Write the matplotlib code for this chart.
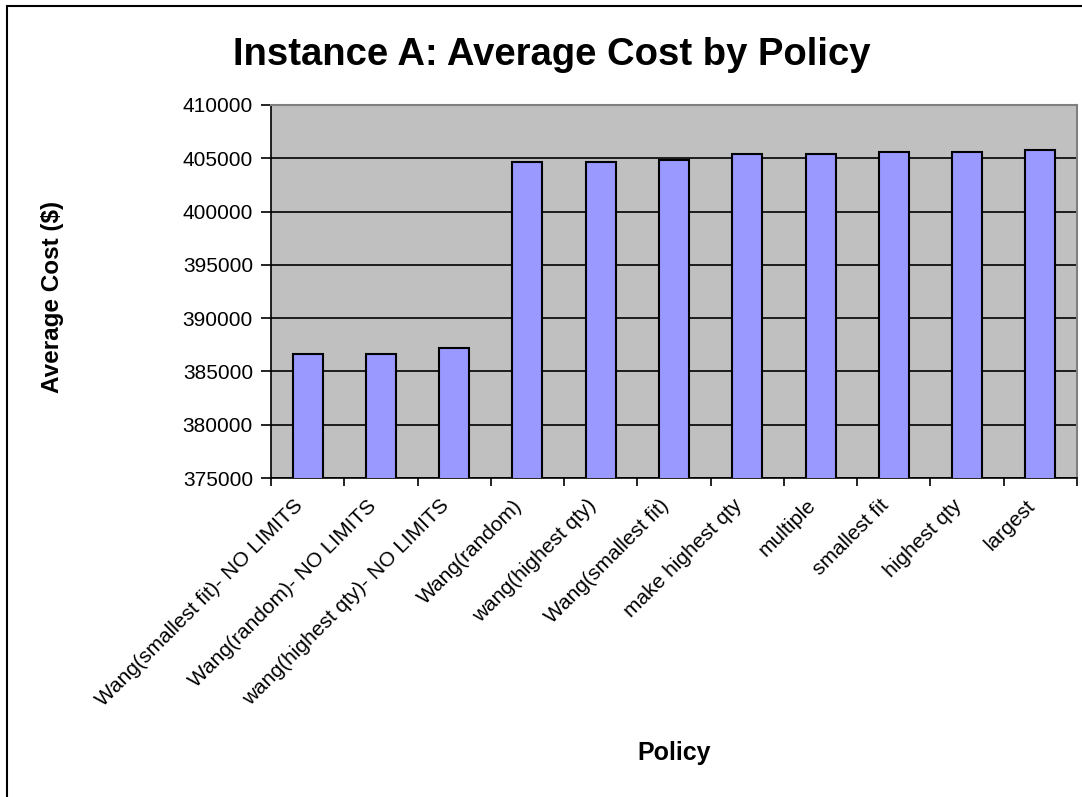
import numpy as np
from matplotlib import pyplot as plt
from matplotlib.patches import Rectangle

# данные
policies = [
    "Wang(smallest fit)- NO LIMITS",
    "Wang(random)- NO LIMITS",
    "wang(highest qty)- NO LIMITS",
    "Wang(random)",
    "wang(highest qty)",
    "Wang(smallest fit)",
    "make highest qty",
    "multiple",
    "smallest fit",
    "highest qty",
    "largest",
]
avg_cost = [386620, 386610, 387160, 404620, 404630, 404810,
            405370, 405380, 405560, 405560, 405750]
y_ticks = np.arange(375000, 410001, 5000)

W, H = 1082, 797
LABEL_SHIFT = 0.2  # сдвиг подписей категорий влево (в долях категории)


def main() -> None:
    plt.rcParams["font.family"] = ["Liberation Sans", "DejaVu Sans"]
    fig = plt.figure(figsize=(W / 100, H / 100), dpi=100)

    # область графика в пикселях: x 271..1077, y 105..478
    ax = fig.add_axes([271 / W, 1 - 478 / H, (1077 - 271) / W, (478 - 105) / H])
    ax.set_facecolor("#C0C0C0")

    x = np.arange(len(policies))
    ax.bar(x, avg_cost, width=0.41, color="#9999FF", edgecolor="black",
           linewidth=1.5, zorder=3)

    ax.set_xlim(-0.5, len(policies) - 0.5)
    ax.set_ylim(y_ticks[0], y_ticks[-1])
    ax.set_yticks(y_ticks)
    ax.set_yticklabels([str(v) for v in y_ticks], fontsize=15)
    ax.yaxis.grid(True, color="black", linewidth=1.2, zorder=0)
    ax.set_axisbelow(True)

    ax.set_xticks(x - LABEL_SHIFT)
    ax.set_xticklabels(policies, rotation=45, ha="right",
                       rotation_mode="anchor", fontsize=15)
    ax.set_xticks(np.arange(-0.5, len(policies)), minor=True)
    ax.tick_params(axis="x", which="major", length=0, pad=13)
    ax.tick_params(axis="x", which="minor", length=6, width=1.2)
    ax.tick_params(axis="y", length=7, width=1.2, pad=6)

    for side in ("top", "right"):
        ax.spines[side].set_color("#808080")
        ax.spines[side].set_linewidth(1.5)
    for side in ("left", "bottom"):
        ax.spines[side].set_color("black")
        ax.spines[side].set_linewidth(1.2)

    fig.text(53 / W, 1 - 297 / H, "Average Cost ($)", fontsize=17.5,
             fontweight="bold", rotation=90, ha="center", va="center")
    fig.text(674 / W, 1 - 753 / H, "Policy", fontsize=18, fontweight="bold",
             ha="center", va="center")
    fig.text(552 / W, 1 - 55 / H, "Instance A: Average Cost by Policy",
             fontsize=27.5, fontweight="bold", ha="center", va="center")

    # рамка диаграммы (правый и нижний края за пределами картинки)
    fig.patches.append(Rectangle((7 / W, -0.1), 1.2, 1 - 6 / H + 0.1,
                                 transform=fig.transFigure, fill=False,
                                 edgecolor="black", linewidth=1.5))

    fig.savefig("out.png", dpi=100)


if __name__ == '__main__':
    main()
